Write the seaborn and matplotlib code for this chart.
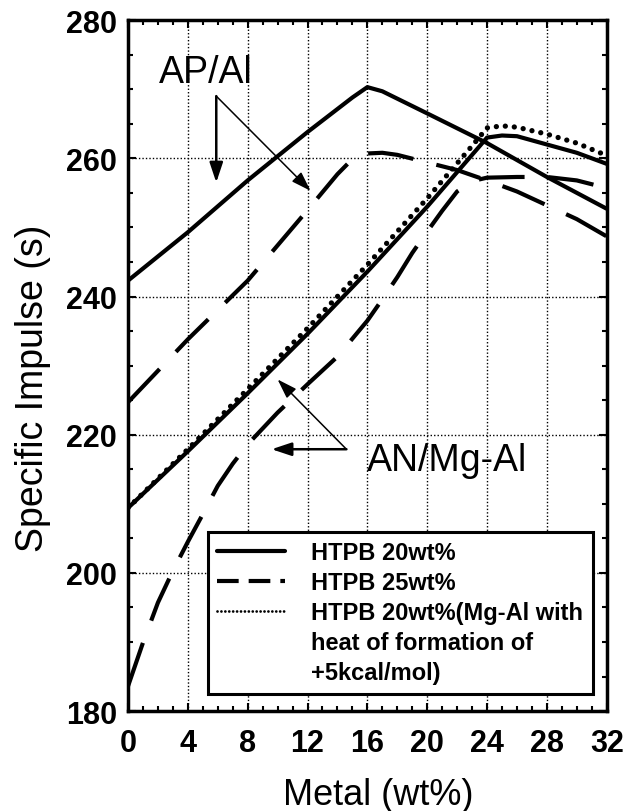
import matplotlib
matplotlib.use("Agg")
import matplotlib.pyplot as plt
from matplotlib.lines import Line2D
from matplotlib.ticker import MultipleLocator
import pandas as pd
import seaborn as sns

# Specific impulse (s) versus metal content (wt%)
# AP/Al propellants
ap20_metal = [0, 4, 8, 12, 15, 16, 17, 20, 24, 28, 32]
ap20_isp = [242.3, 249.3, 256.8, 263.8, 268.8, 270.3, 269.7, 266.5, 262.2, 257.3, 252.7]

ap25_metal = [0, 4, 8, 12, 14, 15, 16, 17, 18, 20, 22, 24, 26, 28, 30, 32]
ap25_isp = [224.7, 233.8, 242.3, 252.5, 257.7, 259.9, 260.7, 260.8, 260.5, 259.4, 258.3,
            256.8, 255.2, 253.2, 251.2, 248.7]

# AN/Mg-Al propellants
an20_metal = [0, 4, 8, 12, 16, 20, 23, 24, 25, 26, 28, 30, 32]
an20_isp = [209.4, 217.6, 226.0, 234.6, 243.6, 253.0, 260.5, 263.0, 263.3, 263.2, 262.0,
            260.8, 259.2]

an25_metal = [0, 1, 2, 3, 4, 5, 6, 7, 8, 10, 12, 14, 15, 16, 17, 18, 19, 20, 21, 22, 23,
              24, 26, 28, 30, 32]
an25_isp = [183.6, 189.9, 195.7, 200.3, 204.5, 208.5, 212.6, 215.8, 218.6, 223.2, 227.3,
            231.3, 233.9, 236.5, 239.6, 242.8, 246.3, 249.4, 252.4, 255.2, 256.7, 257.2,
            257.3, 257.3, 256.8, 255.7]

an20hf_metal = [0, 4, 8, 12, 16, 20, 23, 24, 25, 26, 28, 30, 32]
an20hf_isp = [209.4, 217.9, 226.6, 235.4, 244.6, 254.2, 261.8, 264.4, 264.7, 264.5, 263.5,
              262.2, 260.4]

legend_labels = ["HTPB 20wt%", "HTPB 25wt%", "HTPB 20wt%(Mg-Al with",
                 "heat of formation of", "+5kcal/mol)"]
x_ticks = [0, 4, 8, 12, 16, 20, 24, 28, 32]
y_ticks = [180, 200, 220, 240, 260, 280]

sns.set_theme(style="ticks")
plt.rcParams["font.family"] = ["Liberation Sans", "DejaVu Sans"]

fig = plt.figure(figsize=(6.4, 8.12), dpi=100)
ax = fig.add_axes([0.2, 0.123, 0.748, 0.851])

solid = dict(color="black", lw=3.0, solid_capstyle="butt")
dashed = dict(color="black", lw=3.0, linestyle=(0, (11, 5.7)), dash_capstyle="butt")
dotted = dict(color="black", lw=3.8, linestyle=(0, (0.01, 1.7)), dash_capstyle="round")

frames = {
    "ap20": pd.DataFrame({"metal": ap20_metal, "isp": ap20_isp}),
    "ap25": pd.DataFrame({"metal": ap25_metal, "isp": ap25_isp}),
    "an20": pd.DataFrame({"metal": an20_metal, "isp": an20_isp}),
    "an25": pd.DataFrame({"metal": an25_metal, "isp": an25_isp}),
    "an20hf": pd.DataFrame({"metal": an20hf_metal, "isp": an20hf_isp}),
}

sns.lineplot(data=frames["an20hf"], x="metal", y="isp", ax=ax, **dotted)
sns.lineplot(data=frames["an20"], x="metal", y="isp", ax=ax, **solid)
sns.lineplot(data=frames["ap20"], x="metal", y="isp", ax=ax, **solid)
sns.lineplot(data=frames["ap25"], x="metal", y="isp", ax=ax, **dashed)
sns.lineplot(data=frames["an25"], x="metal", y="isp", ax=ax, **dashed)

ax.set_xlim(0, 32)
ax.set_ylim(180, 280)
ax.set_xticks(x_ticks)
ax.set_yticks(y_ticks)
ax.xaxis.set_minor_locator(MultipleLocator(1))
ax.yaxis.set_minor_locator(MultipleLocator(5))
ax.tick_params(which="both", direction="in", top=True, right=True, color="black", width=1.5)
ax.tick_params(which="major", length=6, labelsize=22, labelcolor="black")
ax.tick_params(which="minor", length=3.5)
ax.tick_params(axis="x", pad=12)
ax.tick_params(axis="y", pad=8)
for lab in ax.get_xticklabels() + ax.get_yticklabels():
    lab.set_fontweight("bold")

ax.grid(True, which="major", color="black", lw=1.0, linestyle=(0, (1, 1.5)))
for sp in ax.spines.values():
    sp.set_color("black")
    sp.set_linewidth(2.5)

ax.set_xlabel("Metal (wt%)", fontsize=26, color="black")
ax.set_ylabel("Specific Impulse (s)", fontsize=27, color="black")
ax.xaxis.set_label_coords(0.522, -0.095)
ax.yaxis.set_label_coords(-0.16, 0.469)

# Pointer arrows and series group labels
arrow_thick = dict(arrowstyle="-|>,head_length=0.6,head_width=0.2", color="black",
                   lw=1.8, mutation_scale=20, shrinkA=0, shrinkB=0)
arrow_thin = dict(arrowstyle="-|>,head_length=0.6,head_width=0.2", color="black",
                  lw=1.1, mutation_scale=20, shrinkA=0, shrinkB=0)
ax.annotate("", xy=(5.9, 256.5), xytext=(5.9, 269.0), arrowprops=arrow_thick)
ax.annotate("", xy=(12.2, 255.3), xytext=(5.9, 269.0), arrowprops=arrow_thin)
ax.text(2.1, 272.5, "AP/Al", fontsize=27, ha="left", va="center", color="black")

ax.annotate("", xy=(10.0, 228.0), xytext=(14.6, 217.9), arrowprops=arrow_thin)
ax.annotate("", xy=(9.6, 217.9), xytext=(14.6, 217.9), arrowprops=arrow_thick)
ax.text(16.0, 216.4, "AN/Mg-Al", fontsize=27, ha="left", va="center", color="black")

# Legend: the long description wraps over three rows beside the dotted sample
handles = [
    Line2D([], [], color="black", lw=3.0),
    Line2D([], [], color="black", lw=3.0, linestyle=(0, (5.2, 2.4))),
    Line2D([], [], color="black", lw=2.0, linestyle=(0, (0.01, 1.4)), dash_capstyle="round"),
    Line2D([], [], linestyle="none"),
    Line2D([], [], linestyle="none"),
]
leg = ax.legend(handles, legend_labels, loc="lower right", bbox_to_anchor=(0.971, 0.025),
                fontsize=17, handlelength=2.9, handletextpad=1.1, labelspacing=0.3,
                borderpad=0.4, borderaxespad=0, fancybox=False, framealpha=1,
                edgecolor="black", facecolor="white")
leg.get_frame().set_linewidth(2.2)
for t in leg.get_texts():
    t.set_color("black")
    t.set_fontweight("bold")

fig.savefig("out.png", dpi=100, facecolor="white")
